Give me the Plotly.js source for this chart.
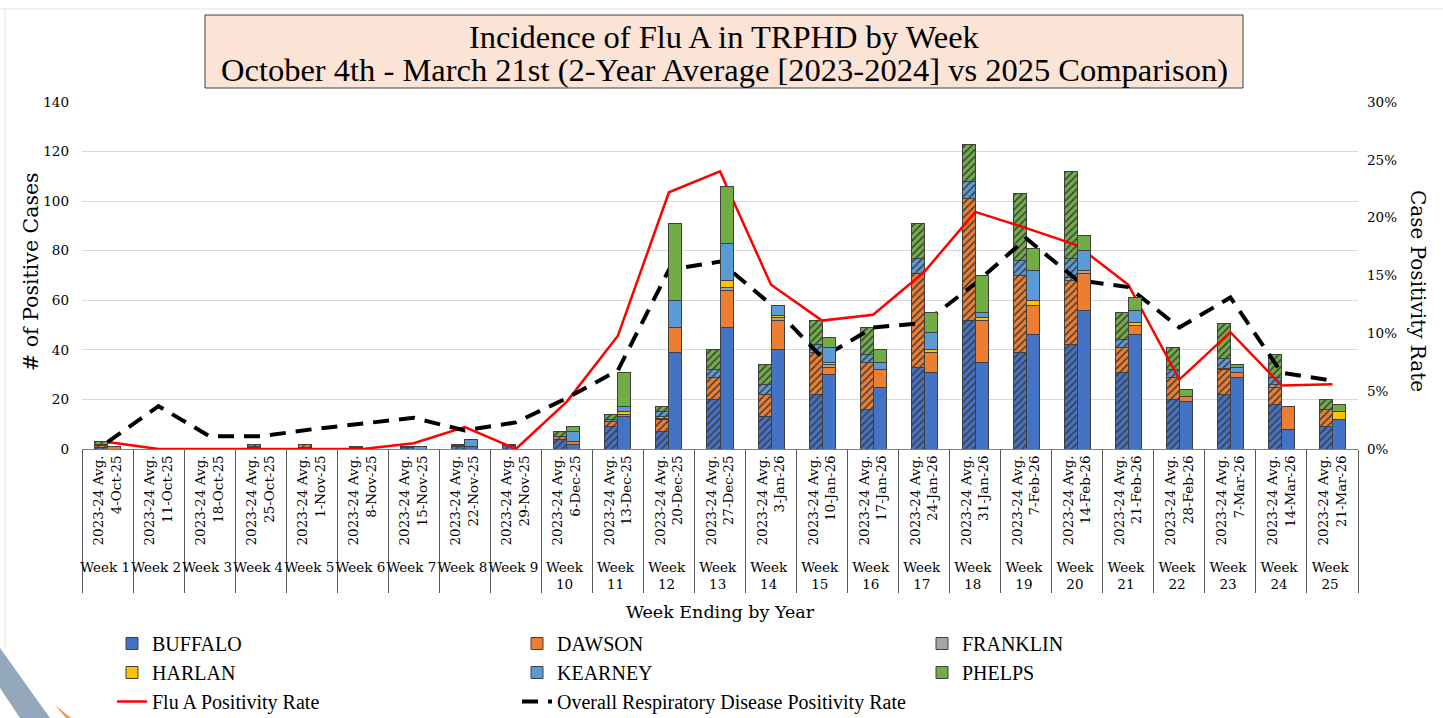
<!DOCTYPE html>
<html><head><meta charset="utf-8">
<script src="https://cdn.plot.ly/plotly-3.0.1.min.js"></script>
<style>html,body{margin:0;padding:0;background:#fff}#chart{width:1443px;height:718px}</style>
</head><body><div id="chart"></div>
<script>
// ---------- DATA ----------
const weekLabels = ["Week 1","Week 2","Week 3","Week 4","Week 5","Week 6","Week 7","Week 8","Week 9",
  "Week<br>10","Week<br>11","Week<br>12","Week<br>13","Week<br>14","Week<br>15","Week<br>16","Week<br>17",
  "Week<br>18","Week<br>19","Week<br>20","Week<br>21","Week<br>22","Week<br>23","Week<br>24","Week<br>25"];
const weekEnding = ["4-Oct-25","11-Oct-25","18-Oct-25","25-Oct-25","1-Nov-25","8-Nov-25","15-Nov-25",
  "22-Nov-25","29-Nov-25","6-Dec-25","13-Dec-25","20-Dec-25","27-Dec-25","3-Jan-26","10-Jan-26",
  "17-Jan-26","24-Jan-26","31-Jan-26","7-Feb-26","14-Feb-26","21-Feb-26","28-Feb-26","7-Mar-26",
  "14-Mar-26","21-Mar-26"];
const avgLabel = "2023-24 Avg.";
const counties = ["BUFFALO","DAWSON","FRANKLIN","HARLAN","KEARNEY","PHELPS"];

// 2023-24 average (hatched bars)
const buffaloAvg  = [0.5,0,0,0.5,0.5,0.5,0.5,1,1.5,4,9,7,20,13,22,16,33,52,39,42,31,20,22,18,9];
const dawsonAvg   = [1,0,0,0.5,1.5,0.5,0,0.5,0,1,2,5,9,9,17,19,38,49,31,26,10,9,10,7,7];
const franklinAvg = [0,0,0,0,0,0,0,0,0,0,0,0.5,0,0,0,0,0,0,0,1,0,0,0.5,1,0];
const harlanAvg   = [0,0,0,0,0,0,0,0,0,0,0,0.5,0,0,0,0,0,0,0,0,0,0,0,0,0];
const kearneyAvg  = [0.5,0,0,0,0,0,0.5,0.5,0.5,0,1,2,3,4,3,3,6,7,6,8,3,3,4,3,0];
const phelpsAvg   = [1,0,0,1,0,0,0,0,0,2,2,2,8,8,10,11,14,15,27,35,11,9,14,9,4];

// 2025 season (solid bars)
const buffalo25  = [0,0,0,0,0,0,0,1,0,2,13,39,49,40,30,25,31,35,46,56,46,19,29,8,12];
const dawson25   = [1,0,0,0,0,0,0,0,0,1,1,10,15,12,3,7,8,17,12,15,4,2,2,9,0];
const franklin25 = [0,0,0,0,0,0,0,0,0,0,0,0,1,1,1,0,0,0,0,1,0,0,0,0,0];
const harlan25   = [0,0,0,0,0,0,0,0,0,0,1,0,3,1,1,0,1,1,2,0,1,0,0,0,3];
const kearney25  = [0,0,0,0,0,0,1,3,0,4,2,11,15,4,6,3,7,2,12,8,5,0,2,0,0];
const phelps25   = [0,0,0,0,0,0,0,0,0,2,14,31,23,0,4,5,8,15,9,6,5,3,1,0,3];

// positivity rates (fractions)
const fluAPositivity    = [0.006,0,0,0,0,0,0.005,0.019,0,0.041,0.098,0.222,0.240,0.142,0.111,0.116,0.153,0.205,0.191,0.176,0.142,0.060,0.101,0.055,0.056];
const overallPositivity = [0.006,0.037,0.011,0.011,0.017,0.022,0.027,0.016,0.023,0.044,0.068,0.155,0.162,0.125,0.079,0.105,0.109,0.143,0.182,0.146,0.140,0.105,0.131,0.066,0.059];

// ---------- BUILD ----------
const colors = ["#4472C4","#ED7D31","#A5A5A5","#FFC000","#5B9BD5","#70AD47"];
const avgSeries = [buffaloAvg,dawsonAvg,franklinAvg,harlanAvg,kearneyAvg,phelpsAvg];
const curSeries = [buffalo25,dawson25,franklin25,harlan25,kearney25,phelps25];
const innerLabels = weekEnding.map(d => avgLabel + "<br>" + d);
const xCats = [weekLabels, innerLabels];
const BW = 0.255;

const traces = [];
counties.forEach((c,i) => {
  traces.push({type:'bar', name:c, legendgroup:c, showlegend:false, x:xCats, y:avgSeries[i],
    xaxis:'x', yaxis:'y', offset:-BW, width:BW,
    marker:{color:colors[i], line:{color:'#404040', width:1},
      pattern:{shape:'/', fgcolor:'#3d3d3d', bgcolor:colors[i], size:5, solidity:0.3, fillmode:'replace'}}});
});
counties.forEach((c,i) => {
  traces.push({type:'bar', name:c, legendgroup:c, x:xCats, y:curSeries[i],
    xaxis:'x2', yaxis:'y', offset:0, width:BW,
    marker:{color:colors[i], line:{color:'#404040', width:1}}});
});
traces.push({type:'scatter', mode:'lines', name:'Flu A Positivity Rate', x:xCats, y:fluAPositivity,
  xaxis:'x', yaxis:'y2', line:{color:'#FF0000', width:2.5}});
traces.push({type:'scatter', mode:'lines', name:'Overall Respiratory Disease Positivity Rate', x:xCats, y:overallPositivity,
  xaxis:'x', yaxis:'y2', line:{color:'#000000', width:4, dash:'16px,10px'}});

// decoration helpers (pixel -> paper)
const L=82, R=85, T=102, B=269, W=1443, H=718;
const pw = W-L-R, ph = H-T-B;
const px = v => (v-L)/pw, py = v => (H-B-v)/ph;
const pathOf = pts => 'M' + pts.map(p => px(p[0]) + ',' + py(p[1])).join('L') + 'Z';

const serif = 'Liberation Serif, Times New Roman, serif';
const wide = 'DejaVu Serif, Georgia, serif';
const layout = {
  width:W, height:H, margin:{l:L,r:R,t:T,b:B},
  paper_bgcolor:'#fff', plot_bgcolor:'#fff',
  font:{family:wide, color:'#000'},
  barmode:'stack', hovermode:false,
  xaxis:{type:'multicategory', range:[-0.5,24.5], tickangle:-90, tickfont:{size:13.5, family:wide},
    showdividers:true, dividercolor:'#595959', dividerwidth:1, showline:true, linecolor:'#808080',
    ticks:'', showgrid:false, automargin:false,
    title:{text:'Week Ending by Year', font:{size:17.5, family:wide}}},
  xaxis2:{type:'multicategory', overlaying:'x', anchor:'y', range:[-0.5,24.5], visible:false},
  yaxis:{range:[0,140], dtick:20, gridcolor:'#d9d9d9', gridwidth:1, zeroline:false, showline:false,
    tickfont:{size:13.5, family:wide}, ticklabelstandoff:12, automargin:false},
  yaxis2:{range:[0,0.30], dtick:0.05, tickformat:'.0%', overlaying:'y', side:'right', anchor:'x',
    showgrid:false, zeroline:false, showline:false, tickfont:{size:13.5, family:wide}, ticklabelstandoff:8, automargin:false},
  legend:{orientation:'h', xref:'container', yref:'container', x:112/W, y:1-624/H, xanchor:'left', yanchor:'top',
    entrywidth:360, font:{size:20, family:serif}, traceorder:'normal', bgcolor:'rgba(0,0,0,0)'},
  annotations:[
    {xref:'paper', yref:'paper', x:px(724), y:py(37), xanchor:'center', yanchor:'middle', showarrow:false,
     text:'Incidence of Flu A in TRPHD by Week', font:{size:32.5, family:serif, color:'#000'}},
    {xref:'paper', yref:'paper', x:px(724), y:py(70), xanchor:'center', yanchor:'middle', showarrow:false,
     text:'October 4th - March 21st (2-Year Average [2023-2024] vs 2025 Comparison)', font:{size:32.5, family:serif, color:'#000'}},
    {xref:'paper', yref:'paper', x:px(31), y:py(272), xanchor:'center', yanchor:'middle', showarrow:false,
     textangle:-90, text:'# of Positive Cases', font:{size:20.5, family:wide, color:'#000'}},
    {xref:'paper', yref:'paper', x:px(1418), y:py(291), xanchor:'center', yanchor:'middle', showarrow:false,
     textangle:90, text:'Case Positivity Rate', font:{size:20, family:wide, color:'#000'}}
  ],
  shapes:[
    {type:'rect', xref:'paper', yref:'paper', x0:px(205), x1:px(1243), y0:py(15), y1:py(88), fillcolor:'#FBE3D6', line:{color:'#404040', width:1}, layer:'below'},
    {type:'line', xref:'paper', yref:'paper', x0:px(0), x1:px(W), y0:py(9), y1:py(9), line:{color:'#e3e3e3', width:1}, layer:'below'},
    {type:'line', xref:'paper', yref:'paper', x0:px(5), x1:px(5), y0:py(9), y1:py(648), line:{color:'#e3e3e3', width:1}, layer:'below'},
    {type:'path', xref:'paper', yref:'paper', path:pathOf([[0,648],[50,718],[20,718],[0,688]]), fillcolor:'#94A8BB', line:{width:0}},
    {type:'path', xref:'paper', yref:'paper', path:pathOf([[55,705],[71,718],[66,718]]), fillcolor:'#F5973A', line:{width:0}}
  ]
};
Plotly.newPlot('chart', traces, layout, {displayModeBar:false, staticPlot:true});
</script></body></html>
